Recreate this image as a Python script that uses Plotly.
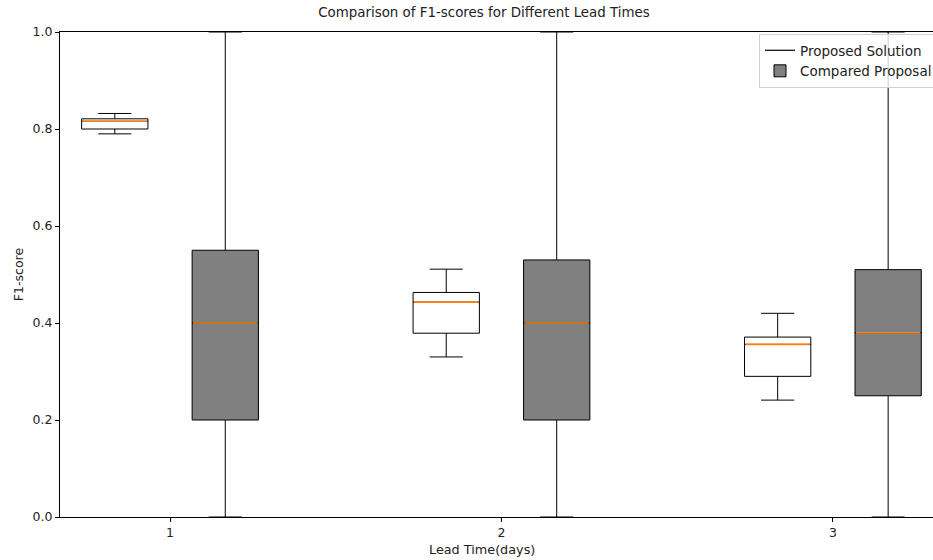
import plotly.graph_objects as go

# ---- data ----
lead_times = [1, 2, 3]
tick_labels = ["1", "2", "3"]

prop_low = [0.790, 0.330, 0.241]
prop_q1 = [0.800, 0.379, 0.290]
prop_med = [0.816, 0.443, 0.356]
prop_q3 = [0.821, 0.463, 0.371]
prop_high = [0.832, 0.511, 0.420]

comp_low = [0.0, 0.0, 0.0]
comp_q1 = [0.20, 0.20, 0.25]
comp_med = [0.40, 0.40, 0.38]
comp_q3 = [0.55, 0.53, 0.51]
comp_high = [1.0, 1.0, 1.0]

offset = 1 / 6
box_w = 0.2

prop_x = [t - offset for t in lead_times]
comp_x = [t + offset for t in lead_times]

fig = go.Figure()

fig.add_trace(go.Box(
    x=prop_x, q1=prop_q1, median=prop_med, q3=prop_q3,
    lowerfence=prop_low, upperfence=prop_high,
    width=box_w, whiskerwidth=0.5,
    fillcolor="white", line=dict(color="black", width=1),
    name="Proposed Solution", showlegend=False, hoverinfo="skip",
))
fig.add_trace(go.Box(
    x=comp_x, q1=comp_q1, median=comp_med, q3=comp_q3,
    lowerfence=comp_low, upperfence=comp_high,
    width=box_w, whiskerwidth=0.5,
    fillcolor="#808080", line=dict(color="black", width=1),
    name="Compared Proposal", showlegend=False, hoverinfo="skip",
))

# orange median lines
for xs, meds in ((prop_x, prop_med), (comp_x, comp_med)):
    mx, my = [], []
    for x, m in zip(xs, meds):
        mx += [x - box_w / 2 + 0.003, x + box_w / 2 - 0.003, None]
        my += [m, m, None]
    fig.add_trace(go.Scatter(x=mx, y=my, mode="lines",
                             line=dict(color="#ff7f0e", width=1.6),
                             showlegend=False, hoverinfo="skip"))

# legend entries
fig.add_trace(go.Scatter(x=[None], y=[None], mode="lines",
                         line=dict(color="black", width=1.2),
                         name="Proposed Solution"))
fig.add_trace(go.Box(x=[None], y=[None], fillcolor="#808080",
                     line=dict(color="black", width=1),
                     name="Compared Proposal", showlegend=True))

font_family = "DejaVu Sans"
fs = 13

fig.update_layout(
    width=933, height=560,
    margin=dict(l=60, r=0, t=32, b=43, autoexpand=False),
    paper_bgcolor="white", plot_bgcolor="white",
    boxmode="overlay",
    font=dict(family=font_family, size=fs, color="#222222"),
    title=dict(text="Comparison of F1-scores for Different Lead Times",
               x=484 / 933, xanchor="center", xref="container",
               y=1 - 12 / 560, yanchor="middle", yref="container",
               font=dict(size=13.4, family=font_family, color="#222222")),
    xaxis=dict(type="linear", range=[0.668, 3.302],
               tickvals=lead_times, ticktext=tick_labels,
               showgrid=False, zeroline=False,
               showline=True, linecolor="black", linewidth=1, mirror=True,
               ticks="outside", ticklen=4, tickcolor="black",
               tickfont=dict(size=12.5)),
    yaxis=dict(range=[0, 1], tickvals=[0, 0.2, 0.4, 0.6, 0.8, 1.0],
               tickformat=".1f", showgrid=False, zeroline=False,
               showline=True, linecolor="black", linewidth=1,
               ticks="outside", ticklen=4, tickcolor="black",
               tickfont=dict(size=12.5),
               title=dict(text="F1-score", font=dict(size=12.5), standoff=6)),
    legend=dict(x=(759 - 60) / 873, y=1 - 2 / 485, xanchor="left", yanchor="top",
                bordercolor="#d0d0d0", borderwidth=1, bgcolor="rgba(255,255,255,0.8)",
                font=dict(size=13.5), tracegroupgap=0),
)
fig.add_annotation(text="Lead Time(days)", xref="paper", yref="paper",
                   x=(482 - 60) / 873, y=-(549 - 517) / 485,
                   xanchor="center", yanchor="middle", showarrow=False,
                   font=dict(size=12.8))

fig.write_html("out.html")
